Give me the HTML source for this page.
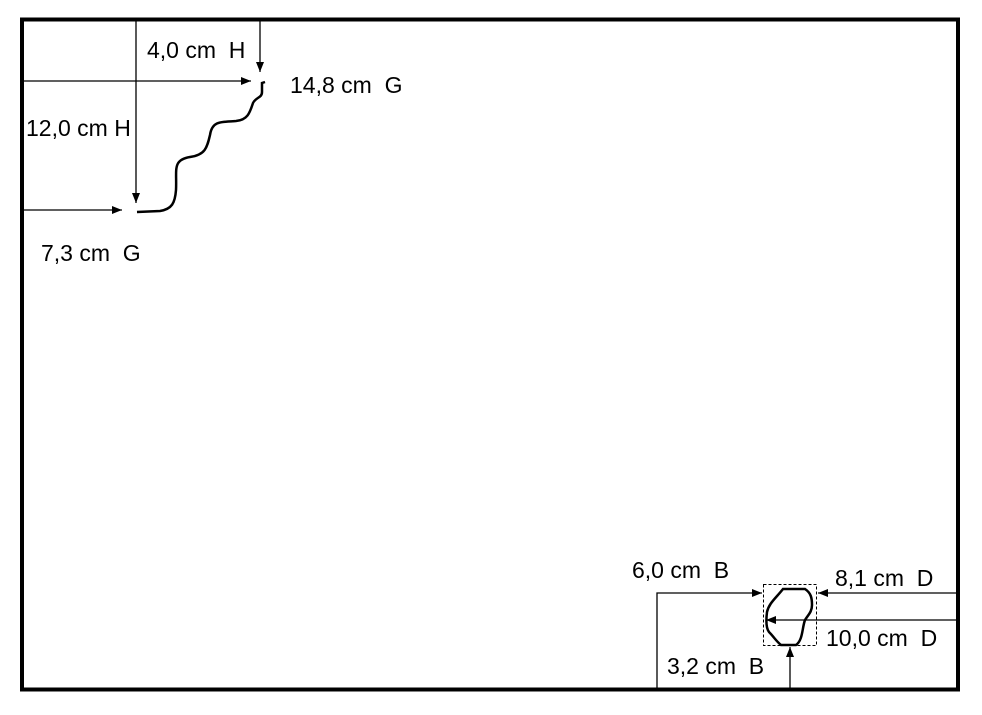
<!DOCTYPE html>
<html><head><meta charset="utf-8"><style>
html,body{margin:0;padding:0;background:#fff;}
svg{display:block;}
text{font-family:"Liberation Sans",Arial,sans-serif;font-size:23px;fill:#000;white-space:pre;}
</style></head><body>
<svg width="982" height="715" viewBox="0 0 982 715" xmlns="http://www.w3.org/2000/svg" xml:space="preserve">
<defs>
<marker id="a" viewBox="0 0 10 10" refX="10" refY="5" markerWidth="10" markerHeight="10" markerUnits="userSpaceOnUse" orient="auto">
<path d="M0,1 L10,5 L0,9 Z" fill="#000"/></marker>
</defs>
<rect x="22" y="19.5" width="936" height="670" fill="none" stroke="#000" stroke-width="4"/>
<g stroke="#000" stroke-width="1.3" fill="none">
<line x1="136" y1="21" x2="136" y2="203" marker-end="url(#a)"/>
<line x1="260" y1="21" x2="260" y2="72" marker-end="url(#a)"/>
<line x1="24" y1="81" x2="251" y2="81" marker-end="url(#a)"/>
<line x1="24" y1="210" x2="122" y2="210" marker-end="url(#a)"/>
<polyline points="657,688 657,593 762,593" marker-end="url(#a)"/>
<line x1="957" y1="593" x2="818" y2="593" marker-end="url(#a)"/>
<line x1="957" y1="620" x2="766" y2="620" marker-end="url(#a)"/>
<line x1="790" y1="688" x2="790" y2="647" marker-end="url(#a)"/>
<rect x="763.5" y="584.5" width="53" height="61" stroke-dasharray="3,2" stroke-width="1"/>
</g>
<path d="M137,212 L160,211 C172,209 175,203 176,190 C177,170 172,160 190,157 C205,155 207,148 210,135 C212,122 218,122 236,121 C248,120 250,112 253,103 C256,97 262,98 262,92 L262,83 L265,82" fill="none" stroke="#000" stroke-width="2.5"/>
<path d="M783,589 L805,589 C811,593 812,598 812,605 C812,612 808,615 805,620 C802,628 803,640 796,645 L781,645 C776,641 774,637 769,632 C766,628 766,620 767,612 C769,603 776,598 783,589 Z" fill="none" stroke="#000" stroke-width="2.5"/>
<text x="147" y="58">4,0 cm  H</text>
<text x="290" y="93">14,8 cm  G</text>
<text x="26" y="136">12,0 cm H</text>
<text x="41" y="261">7,3 cm  G</text>
<text x="632" y="578">6,0 cm  B</text>
<text x="835" y="586">8,1 cm  D</text>
<text x="826" y="646">10,0 cm  D</text>
<text x="667" y="674">3,2 cm  B</text>
</svg>
</body></html>
